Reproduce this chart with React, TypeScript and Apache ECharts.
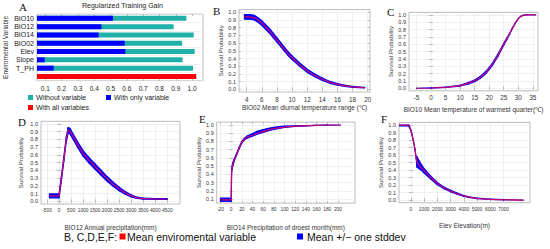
import React, { useEffect, useRef } from 'react';
import * as echarts from 'echarts';

// Panel A: jackknife of regularized training gain
const gainVars = ['BIO10', 'BIO12', 'BIO14', 'BIO02', 'Elev', 'Slope', 'T_PH', ''];
const gainWithout = [0.965, 0.887, 1.01, 0.939, 1.016, 0.942, 1.006, null];
const gainOnly = [0.515, 0.444, 0.427, 0.587, 0.591, 0.096, 0.151, null];
const gainAll = [null, null, null, null, null, null, null, 1.026];
const gainTicks = [0.1, 0.2, 0.3, 0.4, 0.5, 0.6, 0.7, 0.8, 0.9, 1.0];

// Panel B: BIO02
const bX = [3.7, 4, 4.5, 5, 5.5, 6, 6.5, 7, 7.5, 8, 8.5, 9, 9.5, 10, 11, 12, 13, 14, 15, 16, 17, 18, 19, 19.6];
const bMean = [0.94, 0.94, 0.94, 0.93, 0.9, 0.86, 0.81, 0.76, 0.7, 0.64, 0.58, 0.52, 0.46, 0.41, 0.32, 0.24, 0.18, 0.13, 0.09, 0.065, 0.045, 0.032, 0.025, 0.022];
const bLow = [0.91, 0.91, 0.91, 0.9, 0.87, 0.83, 0.78, 0.73, 0.672, 0.612, 0.553, 0.494, 0.435, 0.386, 0.298, 0.22, 0.162, 0.115, 0.078, 0.055, 0.037, 0.026, 0.021, 0.019];
const bHigh = [0.97, 0.97, 0.97, 0.96, 0.93, 0.89, 0.84, 0.79, 0.728, 0.668, 0.607, 0.546, 0.485, 0.434, 0.342, 0.26, 0.198, 0.145, 0.102, 0.075, 0.053, 0.038, 0.029, 0.025];
const bTicks = [4, 6, 8, 10, 12, 14, 16, 18, 20];

// Panel C: BIO10
const cX = [-5, 0, 5, 10, 13, 15, 17, 19, 21, 23, 25, 26, 27, 28, 29, 30, 31, 32, 33, 36];
const cMean = [0, 0.003, 0.012, 0.035, 0.07, 0.1, 0.15, 0.22, 0.32, 0.45, 0.6, 0.67, 0.74, 0.82, 0.89, 0.95, 0.985, 0.997, 1.0, 1.0];
const cLow = [0, 0.002, 0.01, 0.03, 0.06, 0.088, 0.137, 0.205, 0.305, 0.435, 0.587, 0.66, 0.733, 0.815, 0.886, 0.948, 0.984, 0.997, 1.0, 1.0];
const cHigh = [0, 0.004, 0.014, 0.04, 0.08, 0.112, 0.163, 0.235, 0.335, 0.465, 0.613, 0.68, 0.747, 0.825, 0.894, 0.952, 0.986, 0.997, 1.0, 1.0];
const cTicks = [-5, 0, 5, 10, 15, 20, 25, 30, 35];

// Panel D: BIO12
const dX = [-400, 0, 100, 200, 300, 380, 450, 600, 800, 1000, 1250, 1500, 1750, 2000, 2250, 2500, 2750, 3000, 3250, 3500, 4000, 4500];
const dMean = [0.07, 0.07, 0.3, 0.55, 0.8, 0.92, 0.91, 0.83, 0.72, 0.62, 0.53, 0.45, 0.37, 0.29, 0.22, 0.16, 0.11, 0.07, 0.045, 0.035, 0.03, 0.03];
const dLow = [0.045, 0.045, 0.27, 0.52, 0.77, 0.885, 0.875, 0.795, 0.685, 0.585, 0.495, 0.415, 0.337, 0.26, 0.193, 0.137, 0.092, 0.057, 0.037, 0.028, 0.025, 0.025];
const dHigh = [0.095, 0.095, 0.33, 0.58, 0.83, 0.955, 0.945, 0.865, 0.755, 0.655, 0.565, 0.485, 0.403, 0.32, 0.247, 0.183, 0.128, 0.083, 0.053, 0.042, 0.035, 0.035];
const dTicks = [-500, 0, 500, 1000, 1500, 2000, 2500, 3000, 3500, 4000, 4500];

// Panel E: BIO14
const eX = [-20, 0, 1, 3, 5, 10, 15, 20, 25, 30, 40, 50, 60, 70, 80, 90, 100, 120, 140, 160, 180, 205];
const eMean = [0.09, 0.09, 0.45, 0.52, 0.56, 0.64, 0.72, 0.79, 0.83, 0.85, 0.875, 0.9, 0.92, 0.94, 0.955, 0.965, 0.975, 0.985, 0.99, 0.995, 1.0, 1.0];
const eLow = [0.07, 0.07, 0.43, 0.5, 0.545, 0.63, 0.71, 0.78, 0.82, 0.84, 0.865, 0.89, 0.91, 0.93, 0.945, 0.958, 0.97, 0.982, 0.988, 0.994, 0.999, 1.0];
const eHigh = [0.11, 0.11, 0.47, 0.54, 0.575, 0.65, 0.73, 0.8, 0.84, 0.865, 0.895, 0.925, 0.945, 0.96, 0.972, 0.98, 0.985, 0.99, 0.993, 0.997, 1.0, 1.0];
const eTicks = [-20, 0, 20, 40, 60, 80, 100, 120, 140, 160, 180, 200];

// Panel F: Elevation
const fX = [-900, -300, -150, 0, 100, 200, 300, 400, 450, 600, 800, 1000, 1500, 2000, 2500, 3000, 3500, 4000, 4500, 5000, 6000, 7000, 8500];
const fMean = [1.0, 1.0, 0.99, 0.93, 0.86, 0.78, 0.68, 0.56, 0.51, 0.47, 0.43, 0.39, 0.3, 0.22, 0.16, 0.12, 0.085, 0.055, 0.035, 0.022, 0.01, 0.004, 0.0];
const fLow = [0.99, 0.99, 0.98, 0.925, 0.855, 0.775, 0.675, 0.555, 0.44, 0.42, 0.395, 0.36, 0.28, 0.205, 0.15, 0.11, 0.078, 0.05, 0.031, 0.019, 0.008, 0.003, 0];
const fHigh = [1.0, 1.0, 1.0, 0.935, 0.865, 0.785, 0.685, 0.565, 0.58, 0.53, 0.47, 0.42, 0.32, 0.235, 0.172, 0.13, 0.092, 0.06, 0.039, 0.025, 0.012, 0.005, 0.001];
const fTicks = [0, 1000, 2000, 3000, 4000, 5000, 6000, 7000];

const probTicks = [0, 0.1, 0.2, 0.3, 0.4, 0.5, 0.6, 0.7, 0.8, 0.9, 1.0];
const probTicksE = [0.1, 0.2, 0.3, 0.4, 0.5, 0.6, 0.7, 0.8, 0.9, 1.0];

const SANS = '"Liberation Sans", Arial, sans-serif';
const SERIF = '"Liberation Serif", "Times New Roman", serif';
const TEAL = '#1fb0aa';
const BLUE = '#0000ff';
const RED = '#ff0000';

function curveSeries(i: number, xs: number[], lo: number[], hi: number[], mean: number[]) {
  const segs: number[][] = [];
  for (let k = 0; k < xs.length - 1; k++) {
    segs.push([xs[k], lo[k], hi[k], xs[k + 1], lo[k + 1], hi[k + 1]]);
  }
  return [
    {
      type: 'custom', xAxisIndex: i, yAxisIndex: i, silent: true, clip: true,
      data: segs,
      encode: { x: [0, 3], y: [1, 2, 4, 5] },
      renderItem: (params: any, api: any) => {
        const a = api.coord([api.value(0), api.value(1)]);
        const b = api.coord([api.value(3), api.value(4)]);
        const c = api.coord([api.value(3), api.value(5)]);
        const d = api.coord([api.value(0), api.value(2)]);
        return {
          type: 'polygon',
          shape: { points: [a, b, c, d] },
          style: { fill: BLUE, stroke: BLUE, lineWidth: 1.2, lineJoin: 'round' },
        };
      },
    },
    {
      type: 'line', xAxisIndex: i, yAxisIndex: i, symbol: 'none', silent: true, z: 5,
      data: xs.map((x, k) => [x, mean[k]]),
      lineStyle: { color: 'rgba(255,0,70,0.8)', width: 1.2 },
    },
  ];
}

const tickStyle = { color: '#999', width: 0.6 };

function xAxisFor(i: number, min: number, max: number, ticks: number[], name: string, gap: number, fs: number) {
  return {
    gridIndex: i, type: 'value', min, max,
    name, nameLocation: 'middle', nameGap: gap,
    nameTextStyle: { fontSize: 6.5, fontFamily: SANS, color: '#333' },
    axisLine: { show: false },
    axisTick: { show: true, inside: true, length: 2, lineStyle: tickStyle, customValues: ticks },
    axisLabel: { fontSize: fs, fontFamily: SANS, color: '#333', margin: 4, customValues: ticks, hideOverlap: false, formatter: (v: number) => String(v) },
    splitLine: { show: true, lineStyle: { color: '#e6e6e6', width: 0.6 } },
  };
}

function yAxisFor(i: number, min: number, max: number, ticks: number[], gap: number) {
  return {
    gridIndex: i, type: 'value', min, max,
    name: 'Survival Probability', nameLocation: 'middle', nameGap: gap, nameRotate: 90,
    nameTextStyle: { fontSize: 6, fontFamily: SANS, color: '#333' },
    axisLine: { show: false },
    axisTick: { show: true, inside: true, length: 2, lineStyle: tickStyle, customValues: ticks },
    axisLabel: { fontSize: 5.5, fontFamily: SANS, color: '#333', margin: 3, customValues: ticks, formatter: (v: number) => v.toFixed(1) },
    splitLine: { show: true, lineStyle: { color: '#e6e6e6', width: 0.6 } },
  };
}

// mirror axes: tick marks on the top and right borders
function topAxis(i: number, min: number, max: number, ticks: number[]) {
  return {
    gridIndex: i, type: 'value', position: 'top', min, max,
    axisLine: { show: false }, axisLabel: { show: false }, splitLine: { show: false },
    axisTick: { show: true, inside: true, length: 2, lineStyle: tickStyle, customValues: ticks },
  };
}
function rightAxis(i: number, min: number, max: number, ticks: number[]) {
  return {
    gridIndex: i, type: 'value', position: 'right', min, max,
    axisLine: { show: false }, axisLabel: { show: false }, splitLine: { show: false },
    axisTick: { show: true, inside: true, length: 2, lineStyle: tickStyle, customValues: ticks },
  };
}

const gridStyle = { show: true, borderColor: '#aaa', borderWidth: 0.8, backgroundColor: 'transparent', containLabel: false };

export default function App() {
  const ref = useRef<HTMLDivElement>(null);
  useEffect(() => {
    document.body.style.margin = '0';
    if (!ref.current) return;
    const chart = echarts.init(ref.current, undefined, { renderer: 'svg' });
    const xr = [
      [0.049, 1.067], [2.98, 20.3], [-7.6, 36.8], [-750, 5030], [-27, 232], [-900, 9000],
    ];
    const yr = [
      [-0.035, 1.035], [-0.035, 1.035], [-0.035, 1.035], [0.05, 1.035], [-0.035, 1.035],
    ];
    const xt = [gainTicks, bTicks, cTicks, dTicks, eTicks, fTicks];
    const yt = [probTicks, probTicks, probTicks, probTicksE, probTicks];
    const option: any = {
      animation: false,
      backgroundColor: '#fff',
      grid: [
        { ...gridStyle, left: 37, top: 14.2, width: 166, height: 66.4 },
        { ...gridStyle, left: 239, top: 9.6, width: 131, height: 82.4 },
        { ...gridStyle, left: 409, top: 12.4, width: 129, height: 78.4 },
        { ...gridStyle, left: 41, top: 121.3, width: 139, height: 82.7 },
        { ...gridStyle, left: 216.7, top: 122.1, width: 138.3, height: 81 },
        { ...gridStyle, left: 399, top: 122.4, width: 131, height: 80.3 },
      ],
      xAxis: [
        {
          gridIndex: 0, type: 'value', min: xr[0][0], max: xr[0][1],
          axisLine: { show: false },
          axisTick: { show: true, inside: true, length: 2, lineStyle: tickStyle, customValues: gainTicks },
          axisLabel: { fontSize: 6.5, fontFamily: SANS, color: '#222', margin: 4, customValues: gainTicks, formatter: (v: number) => v.toFixed(1) },
          splitLine: { show: false },
        },
        xAxisFor(1, xr[1][0], xr[1][1], bTicks, 'BIO02 Mean diurnal temperature range (℃)', 12, 6.3),
        xAxisFor(2, xr[2][0], xr[2][1], cTicks, 'BIO10 Mean temperature of warmest quarter(℃)', 15, 6.3),
        xAxisFor(3, xr[3][0], xr[3][1], dTicks, 'BIO12 Annual precipitation(mm)', 20, 4.8),
        xAxisFor(4, xr[4][0], xr[4][1], eTicks, 'BIO14 Precipitation of droest month(mm)', 21, 4.8),
        xAxisFor(5, xr[5][0], xr[5][1], fTicks, 'Elev Elevation(m)', 19, 4.8),
        ...[0, 1, 2, 3, 4, 5].map((i) => topAxis(i, xr[i][0], xr[i][1], xt[i])),
      ],
      yAxis: [
        {
          gridIndex: 0, type: 'category', data: gainVars, inverse: true,
          name: 'Enviromental Variable', nameLocation: 'middle', nameGap: 28, nameRotate: 90,
          nameTextStyle: { fontSize: 6.5, fontFamily: SANS, color: '#333' },
          axisLine: { show: false }, axisTick: { show: false },
          axisLabel: { fontSize: 7, fontFamily: SANS, color: '#222', margin: 3, interval: 0 },
          splitLine: { show: true, interval: 0, lineStyle: { color: '#e6e6e6', width: 0.6 } },
        },
        yAxisFor(1, yr[0][0], yr[0][1], probTicks, 14),
        yAxisFor(2, yr[1][0], yr[1][1], probTicks, 14),
        yAxisFor(3, yr[2][0], yr[2][1], probTicks, 17),
        yAxisFor(4, yr[3][0], yr[3][1], probTicksE, 13),
        yAxisFor(5, yr[4][0], yr[4][1], probTicks, 14),
        ...[1, 2, 3, 4, 5].map((i) => rightAxis(i, yr[i - 1][0], yr[i - 1][1], yt[i - 1])),
      ],
      series: [
        { type: 'bar', xAxisIndex: 0, yAxisIndex: 0, data: gainWithout, barWidth: 5, barGap: '-100%', itemStyle: { color: TEAL }, silent: true },
        { type: 'bar', xAxisIndex: 0, yAxisIndex: 0, data: gainOnly, barWidth: 5, barGap: '-100%', itemStyle: { color: BLUE }, silent: true },
        { type: 'bar', xAxisIndex: 0, yAxisIndex: 0, data: gainAll, barWidth: 5, barGap: '-100%', itemStyle: { color: RED }, silent: true },
        ...curveSeries(1, bX, bLow, bHigh, bMean),
        ...curveSeries(2, cX, cLow, cHigh, cMean),
        ...curveSeries(3, dX, dLow, dHigh, dMean),
        ...curveSeries(4, eX, eLow, eHigh, eMean),
        ...curveSeries(5, fX, fLow, fHigh, fMean),
      ],
      graphic: [
        { type: 'text', left: 82, top: 2, style: { text: 'Regularized Training Gain', fontSize: 7, fontFamily: SANS, fill: '#222' } },
        { type: 'text', x: 19, y: 1, style: { text: 'A', fontSize: 11, fontFamily: SERIF, fill: '#111' } },
        { type: 'text', x: 213, y: 5, style: { text: 'B', fontSize: 11, fontFamily: SERIF, fill: '#111' } },
        { type: 'text', x: 387, y: 6, style: { text: 'C', fontSize: 11, fontFamily: SERIF, fill: '#111' } },
        { type: 'text', x: 18, y: 116, style: { text: 'D', fontSize: 11, fontFamily: SERIF, fill: '#111' } },
        { type: 'text', x: 199, y: 113, style: { text: 'E', fontSize: 11, fontFamily: SERIF, fill: '#111' } },
        { type: 'text', x: 381, y: 113, style: { text: 'F', fontSize: 11, fontFamily: SERIF, fill: '#111' } },
        // Panel A legend
        { type: 'rect', shape: { x: 28, y: 95, width: 5, height: 5 }, style: { fill: TEAL } },
        { type: 'text', x: 36, y: 97.5, style: { text: 'Without variable', fontSize: 7, fontFamily: SANS, fill: '#222', verticalAlign: 'middle' } },
        { type: 'rect', shape: { x: 106, y: 95, width: 5, height: 5 }, style: { fill: BLUE } },
        { type: 'text', x: 114, y: 97.5, style: { text: 'With only variable', fontSize: 7, fontFamily: SANS, fill: '#222', verticalAlign: 'middle' } },
        { type: 'rect', shape: { x: 28, y: 105, width: 5, height: 5 }, style: { fill: RED } },
        { type: 'text', x: 36, y: 107.5, style: { text: 'With all variables', fontSize: 7, fontFamily: SANS, fill: '#222', verticalAlign: 'middle' } },
        // Bottom legend
        { type: 'text', x: 64, y: 237, style: { text: 'B, C,D,E,F:', fontSize: 10.5, fontFamily: SANS, fill: '#111', verticalAlign: 'middle' } },
        { type: 'rect', shape: { x: 119.5, y: 233.5, width: 6, height: 6 }, style: { fill: RED } },
        { type: 'text', x: 127, y: 237, style: { text: 'Mean enviromental variable', fontSize: 10.5, fontFamily: SANS, fill: '#111', verticalAlign: 'middle' } },
        { type: 'rect', shape: { x: 297, y: 233.5, width: 6, height: 6 }, style: { fill: BLUE } },
        { type: 'text', x: 307, y: 237, style: { text: 'Mean +/\u2212 one stddev', fontSize: 10.5, fontFamily: SANS, fill: '#111', verticalAlign: 'middle' } },
      ],
    };
    chart.setOption(option);
    return () => chart.dispose();
  }, []);
  return <div ref={ref} style={{ width: 550, height: 249 }} />;
}
